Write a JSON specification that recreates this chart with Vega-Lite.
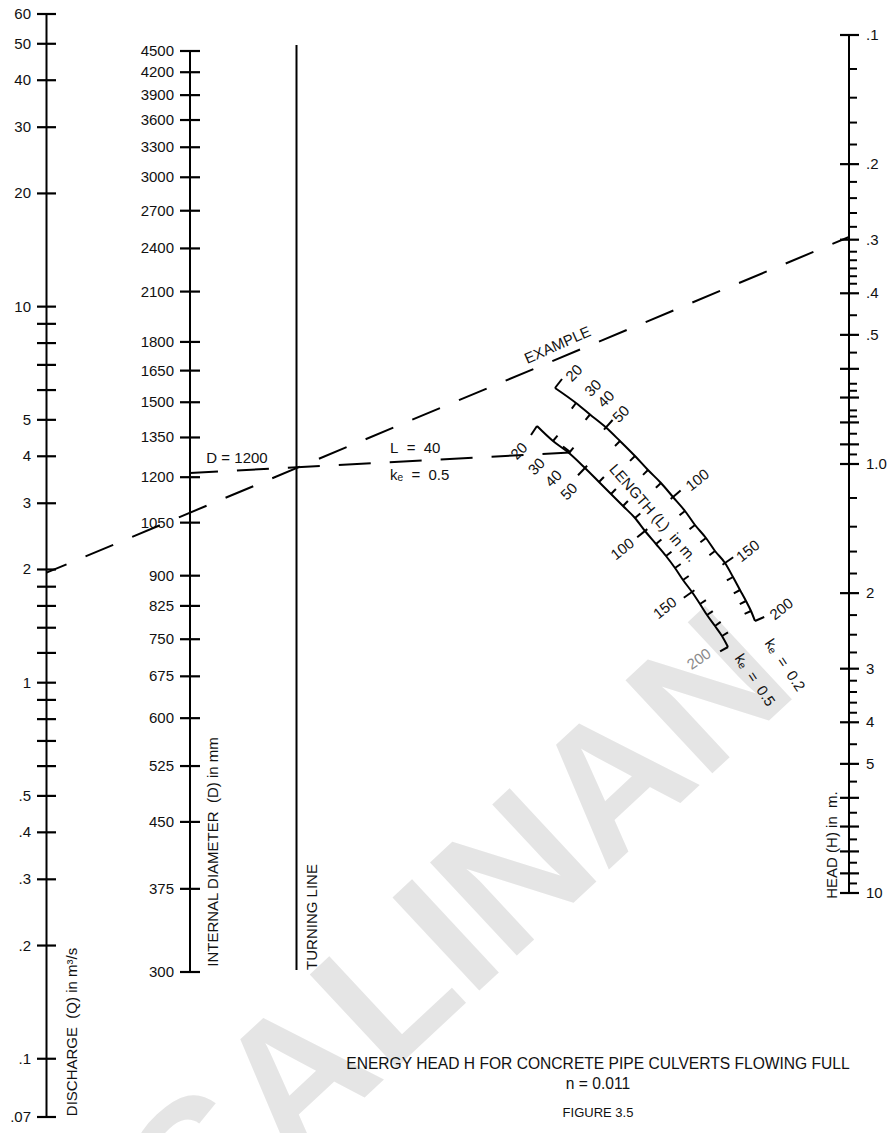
{
"$schema": "https://vega.github.io/schema/vega-lite/v6.json",
"width": 893, "height": 1133, "autosize": "none", "padding": 0, "background": "#ffffff",
"config": {"view": {"stroke": null}, "text": {"font": "Liberation Sans", "fontSize": 15, "color": "#111111"}},
"resolve": {"scale": {"y": "independent"}},
"datasets": {
"qticks": [{"v":60,"label":"60"},{"v":50,"label":"50"},{"v":40,"label":"40"},{"v":30,"label":"30"},{"v":20,"label":"20"},{"v":10,"label":"10"},{"v":9,"label":""},{"v":8,"label":""},{"v":7,"label":""},{"v":6,"label":""},{"v":5,"label":"5"},{"v":4,"label":"4"},{"v":3,"label":"3"},{"v":2,"label":"2"},{"v":1.8,"label":""},{"v":1.6,"label":""},{"v":1.4,"label":""},{"v":1.2,"label":""},{"v":1,"label":"1"},{"v":0.9,"label":""},{"v":0.8,"label":""},{"v":0.7,"label":""},{"v":0.6,"label":""},{"v":0.5,"label":".5"},{"v":0.4,"label":".4"},{"v":0.3,"label":".3"},{"v":0.2,"label":".2"},{"v":0.1,"label":".1"},{"v":0.07,"label":".07"}],
"dticks": [{"v":4500},{"v":4200},{"v":3900},{"v":3600},{"v":3300},{"v":3000},{"v":2700},{"v":2400},{"v":2100},{"v":1800},{"v":1650},{"v":1500},{"v":1350},{"v":1200},{"v":1050},{"v":900},{"v":825},{"v":750},{"v":675},{"v":600},{"v":525},{"v":450},{"v":375},{"v":300}],
"hticks": [{"v":0.1,"label":".1","kind":"major"},{"v":0.2,"label":".2","kind":"major"},{"v":0.3,"label":".3","kind":"major"},{"v":0.4,"label":".4","kind":"major"},{"v":0.5,"label":".5","kind":"major"},{"v":0.6,"label":"","kind":"major"},{"v":0.7,"label":"","kind":"major"},{"v":0.8,"label":"","kind":"major"},{"v":0.9,"label":"","kind":"major"},{"v":1,"label":"1.0","kind":"major"},{"v":2,"label":"2","kind":"major"},{"v":3,"label":"3","kind":"major"},{"v":4,"label":"4","kind":"major"},{"v":5,"label":"5","kind":"major"},{"v":6,"label":"","kind":"major"},{"v":7,"label":"","kind":"major"},{"v":8,"label":"","kind":"major"},{"v":9,"label":"","kind":"major"},{"v":10,"label":"10","kind":"major"},
{"v":0.12,"label":"","kind":"minor"},{"v":0.14,"label":"","kind":"minor"},{"v":0.16,"label":"","kind":"minor"},{"v":0.18,"label":"","kind":"minor"},{"v":0.22,"label":"","kind":"minor"},{"v":0.24,"label":"","kind":"minor"},{"v":0.26,"label":"","kind":"minor"},{"v":0.28,"label":"","kind":"minor"},{"v":0.32,"label":"","kind":"minor"},{"v":0.335,"label":"","kind":"minor"},{"v":0.35,"label":"","kind":"minor"},{"v":0.365,"label":"","kind":"minor"},{"v":0.38,"label":"","kind":"minor"},{"v":0.45,"label":"","kind":"minor"},{"v":0.55,"label":"","kind":"minor"},{"v":0.65,"label":"","kind":"minor"},{"v":0.675,"label":"","kind":"minor"},{"v":0.75,"label":"","kind":"minor"},{"v":0.775,"label":"","kind":"minor"},{"v":0.85,"label":"","kind":"minor"},{"v":0.95,"label":"","kind":"minor"},{"v":1.2,"label":"","kind":"minor"},{"v":1.4,"label":"","kind":"minor"},{"v":1.6,"label":"","kind":"minor"},{"v":1.8,"label":"","kind":"minor"},{"v":2.25,"label":"","kind":"minor"},{"v":2.5,"label":"","kind":"minor"},{"v":2.75,"label":"","kind":"minor"},{"v":3.2,"label":"","kind":"minor"},{"v":3.4,"label":"","kind":"minor"},{"v":3.6,"label":"","kind":"minor"},{"v":3.8,"label":"","kind":"minor"},{"v":4.5,"label":"","kind":"minor"},{"v":5.5,"label":"","kind":"minor"},{"v":6.5,"label":"","kind":"minor"},{"v":7.5,"label":"","kind":"minor"},{"v":8.5,"label":"","kind":"minor"},{"v":9.5,"label":"","kind":"minor"}],
"ucurve": [{"L":20,"gx":555,"gy":388,"t0x":555,"t0y":388,"tx":562,"ty":379},{"L":30,"gx":576,"gy":403,"t0x":576,"t0y":403,"tx":571.8,"ty":408.6},{"L":40,"gx":590,"gy":414.5,"t0x":590,"t0y":414.5,"tx":585.6,"ty":419.9},{"L":50,"gx":606,"gy":427.5,"t0x":604,"t0y":429.7,"tx":612.6,"ty":420},{"L":60,"gx":620,"gy":441,"t0x":620,"t0y":441,"tx":615,"ty":446},{"L":70,"gx":635,"gy":456,"t0x":635,"t0y":456,"tx":630,"ty":460.9},{"L":80,"gx":648,"gy":470,"t0x":648,"t0y":470,"tx":643,"ty":474.9},{"L":90,"gx":661,"gy":483,"t0x":661,"t0y":483,"tx":655.9,"ty":487.8},{"L":100,"gx":673,"gy":497,"t0x":670.7,"t0y":499,"tx":680.6,"ty":490.5},{"L":110,"gx":685,"gy":511,"t0x":685,"t0y":511,"tx":679.5,"ty":515.3},{"L":120,"gx":695,"gy":525,"t0x":695,"t0y":525,"tx":689.5,"ty":529.3},{"L":130,"gx":706,"gy":538,"t0x":706,"t0y":538,"tx":700.4,"ty":542.3},{"L":140,"gx":715,"gy":551,"t0x":715,"t0y":551,"tx":709.4,"ty":555.2},{"L":150,"gx":725,"gy":563,"t0x":722.5,"t0y":564.7,"tx":733.2,"ty":557.3},{"L":160,"gx":733,"gy":577,"t0x":733,"t0y":577,"tx":726.9,"ty":580.4},{"L":170,"gx":740,"gy":590,"t0x":740,"t0y":590,"tx":733.8,"ty":593.3},{"L":180,"gx":746,"gy":601,"t0x":746,"t0y":601,"tx":739.8,"ty":604.2},{"L":190,"gx":751,"gy":611,"t0x":751,"t0y":611,"tx":744.6,"ty":613.9},{"L":200,"gx":755,"gy":621,"t0x":755,"t0y":621,"tx":764.2,"ty":617}],
"lcurve": [{"L":20,"gx":537,"gy":426,"t0x":537,"t0y":426,"tx":531,"ty":435},{"L":30,"gx":553,"gy":441,"t0x":553,"t0y":441,"tx":557.5,"ty":435.6},{"L":40,"gx":569,"gy":453,"t0x":569,"t0y":453,"tx":573.5,"ty":447.7},{"L":50,"gx":585,"gy":468,"t0x":587.1,"t0y":465.8,"tx":578,"ty":475.2},{"L":60,"gx":599,"gy":482,"t0x":599,"t0y":482,"tx":603.9,"ty":477},{"L":70,"gx":611,"gy":494,"t0x":611,"t0y":494,"tx":615.9,"ty":489},{"L":80,"gx":623,"gy":506,"t0x":623,"t0y":506,"tx":627.9,"ty":501},{"L":90,"gx":635,"gy":518,"t0x":635,"t0y":518,"tx":640.3,"ty":513.4},{"L":100,"gx":645,"gy":531,"t0x":647.3,"t0y":529.1,"tx":637.2,"ty":537.3},{"L":110,"gx":656,"gy":544,"t0x":656,"t0y":544,"tx":661.4,"ty":539.5},{"L":120,"gx":666,"gy":556,"t0x":666,"t0y":556,"tx":671.5,"ty":551.7},{"L":130,"gx":675,"gy":568,"t0x":675,"t0y":568,"tx":680.7,"ty":564},{"L":140,"gx":683,"gy":580,"t0x":683,"t0y":580,"tx":688.7,"ty":576},{"L":150,"gx":692,"gy":592,"t0x":694.4,"t0y":590.3,"tx":683.8,"ty":597.8},{"L":160,"gx":700,"gy":604,"t0x":700,"t0y":604,"tx":705.9,"ty":600.2},{"L":170,"gx":707,"gy":615,"t0x":707,"t0y":615,"tx":712.8,"ty":611.1},{"L":180,"gx":715,"gy":626,"t0x":715,"t0y":626,"tx":720.7,"ty":621.9},{"L":190,"gx":722,"gy":636,"t0x":722,"t0y":636,"tx":728,"ty":632.3},{"L":200,"gx":728,"gy":647,"t0x":728,"t0y":647,"tx":720.1,"ty":651.3}],
"numlabels": [{"curve":"upper","text":"20","gx":574,"gy":373},{"curve":"upper","text":"30","gx":593,"gy":388},{"curve":"upper","text":"40","gx":606,"gy":399},{"curve":"upper","text":"50","gx":621,"gy":414},{"curve":"upper","text":"100","gx":697.5,"gy":480},{"curve":"upper","text":"150","gx":748,"gy":551},{"curve":"upper","text":"200","gx":781.5,"gy":609},{"curve":"lower","text":"20","gx":519,"gy":451},{"curve":"lower","text":"30","gx":536.5,"gy":466.5},{"curve":"lower","text":"40","gx":553.5,"gy":478.5},{"curve":"lower","text":"50","gx":569,"gy":491.5},{"curve":"lower","text":"100","gx":622.5,"gy":549},{"curve":"lower","text":"150","gx":665,"gy":608},{"curve":"lower","text":"200","gx":699,"gy":659}]
},
"layer": [
{"data":{"values":[{"text":"SALINAN","gx":462,"gy":930}]},"mark":{"type":"text","angle":-43,"fontSize":185,"fontWeight":"bold","color":"#e5e5e5","align":"center","baseline":"middle"},"encoding":{"x":{"field":"gx","type":"quantitative","scale":{"type":"linear","domain":[0,893],"range":[0,893],"nice":false,"zero":false},"axis":null},"y":{"field":"gy","type":"quantitative","scale":{"type":"linear","domain":[0,1133],"range":[0,1133],"nice":false,"zero":false},"axis":null},"text":{"field":"text"}}},

{"data":{"values":[{}]},"mark":{"type":"rule","strokeWidth":2,"color":"#000000"},"encoding":{"x":{"datum":46.5,"type":"quantitative","scale":{"type":"linear","domain":[0,893],"range":[0,893],"nice":false,"zero":false},"axis":null},"y":{"datum":0.07,"type":"quantitative","scale":{"type":"log","domain":[0.07,60],"range":[1117,14],"nice":false},"axis":null},"y2":{"datum":60}}},
{"data":{"name":"qticks"},"mark":{"type":"rule","strokeWidth":2.2,"color":"#000000"},"encoding":{"x":{"datum":37,"type":"quantitative","scale":{"type":"linear","domain":[0,893],"range":[0,893],"nice":false,"zero":false},"axis":null},"x2":{"datum":56},"y":{"field":"v","type":"quantitative","scale":{"type":"log","domain":[0.07,60],"range":[1117,14],"nice":false},"axis":null}}},
{"data":{"name":"qticks"},"mark":{"type":"text","align":"right","baseline":"middle"},"encoding":{"x":{"datum":31,"type":"quantitative","scale":{"type":"linear","domain":[0,893],"range":[0,893],"nice":false,"zero":false},"axis":null},"y":{"field":"v","type":"quantitative","scale":{"type":"log","domain":[0.07,60],"range":[1117,14],"nice":false},"axis":null},"text":{"field":"label"}}},

{"data":{"values":[{}]},"mark":{"type":"rule","strokeWidth":2,"color":"#000000"},"encoding":{"x":{"datum":190,"type":"quantitative","scale":{"type":"linear","domain":[0,893],"range":[0,893],"nice":false,"zero":false},"axis":null},"y":{"datum":300,"type":"quantitative","scale":{"type":"pow","exponent":-0.075,"domain":[300,4500],"range":[972,51],"nice":false,"zero":false},"axis":null},"y2":{"datum":4500}}},
{"data":{"name":"dticks"},"mark":{"type":"rule","strokeWidth":2.2,"color":"#000000"},"encoding":{"x":{"datum":180,"type":"quantitative","scale":{"type":"linear","domain":[0,893],"range":[0,893],"nice":false,"zero":false},"axis":null},"x2":{"datum":200},"y":{"field":"v","type":"quantitative","scale":{"type":"pow","exponent":-0.075,"domain":[300,4500],"range":[972,51],"nice":false,"zero":false},"axis":null}}},
{"data":{"name":"dticks"},"mark":{"type":"text","align":"right","baseline":"middle"},"encoding":{"x":{"datum":174,"type":"quantitative","scale":{"type":"linear","domain":[0,893],"range":[0,893],"nice":false,"zero":false},"axis":null},"y":{"field":"v","type":"quantitative","scale":{"type":"pow","exponent":-0.075,"domain":[300,4500],"range":[972,51],"nice":false,"zero":false},"axis":null},"text":{"field":"v","type":"quantitative","format":"d"}}},

{"data":{"values":[{}]},"mark":{"type":"rule","strokeWidth":2,"color":"#000000"},"encoding":{"x":{"datum":849,"type":"quantitative","scale":{"type":"linear","domain":[0,893],"range":[0,893],"nice":false,"zero":false},"axis":null},"y":{"datum":0.1,"type":"quantitative","scale":{"type":"log","domain":[0.1,10],"range":[35,893],"nice":false},"axis":null},"y2":{"datum":10}}},
{"data":{"name":"hticks"},"transform":[{"filter":"datum.kind == 'major'"}],"mark":{"type":"rule","strokeWidth":2.2,"color":"#000000"},"encoding":{"x":{"datum":840,"type":"quantitative","scale":{"type":"linear","domain":[0,893],"range":[0,893],"nice":false,"zero":false},"axis":null},"x2":{"datum":859},"y":{"field":"v","type":"quantitative","scale":{"type":"log","domain":[0.1,10],"range":[35,893],"nice":false},"axis":null}}},
{"data":{"name":"hticks"},"transform":[{"filter":"datum.kind == 'minor'"}],"mark":{"type":"rule","strokeWidth":2,"color":"#000000"},"encoding":{"x":{"datum":849,"type":"quantitative","scale":{"type":"linear","domain":[0,893],"range":[0,893],"nice":false,"zero":false},"axis":null},"x2":{"datum":857},"y":{"field":"v","type":"quantitative","scale":{"type":"log","domain":[0.1,10],"range":[35,893],"nice":false},"axis":null}}},
{"data":{"name":"hticks"},"transform":[{"filter":"datum.label != ''"}],"mark":{"type":"text","align":"left","baseline":"middle"},"encoding":{"x":{"datum":866,"type":"quantitative","scale":{"type":"linear","domain":[0,893],"range":[0,893],"nice":false,"zero":false},"axis":null},"y":{"field":"v","type":"quantitative","scale":{"type":"log","domain":[0.1,10],"range":[35,893],"nice":false},"axis":null},"text":{"field":"label"}}},

{"data":{"values":[{}]},"mark":{"type":"rule","strokeWidth":2,"color":"#000000"},"encoding":{"x":{"datum":296.5,"type":"quantitative","scale":{"type":"linear","domain":[0,893],"range":[0,893],"nice":false,"zero":false},"axis":null},"y":{"datum":45,"type":"quantitative","scale":{"type":"linear","domain":[0,1133],"range":[0,1133],"nice":false,"zero":false},"axis":null},"y2":{"datum":970}}},

{"data":{"values":[{"gx":46.5,"gy":572.7},{"gx":849,"gy":237}]},"mark":{"type":"line","strokeWidth":2,"color":"#000000","strokeDash":[30,20.6],"strokeDashOffset":8.3},"encoding":{"x":{"field":"gx","type":"quantitative","scale":{"type":"linear","domain":[0,893],"range":[0,893],"nice":false,"zero":false},"axis":null},"y":{"field":"gy","type":"quantitative","scale":{"type":"linear","domain":[0,1133],"range":[0,1133],"nice":false,"zero":false},"axis":null}}},
{"data":{"values":[{"gx":190,"gy":473},{"gx":570,"gy":452.5}]},"mark":{"type":"line","strokeWidth":2,"color":"#000000","strokeDash":[32,19],"strokeDashOffset":4},"encoding":{"x":{"field":"gx","type":"quantitative","scale":{"type":"linear","domain":[0,893],"range":[0,893],"nice":false,"zero":false},"axis":null},"y":{"field":"gy","type":"quantitative","scale":{"type":"linear","domain":[0,1133],"range":[0,1133],"nice":false,"zero":false},"axis":null}}},
{"data":{"values":[{"gx":563,"gy":446.5,"gx2":570.5,"gy2":452.3}]},"mark":{"type":"rule","strokeWidth":2,"color":"#000000"},"encoding":{"x":{"field":"gx","type":"quantitative","scale":{"type":"linear","domain":[0,893],"range":[0,893],"nice":false,"zero":false},"axis":null},"y":{"field":"gy","type":"quantitative","scale":{"type":"linear","domain":[0,1133],"range":[0,1133],"nice":false,"zero":false},"axis":null},"x2":{"field":"gx2"},"y2":{"field":"gy2"}}},

{"data":{"name":"ucurve"},"mark":{"type":"line","strokeWidth":2,"color":"#000000","interpolate":"monotone"},"encoding":{"x":{"field":"gx","type":"quantitative","scale":{"type":"linear","domain":[0,893],"range":[0,893],"nice":false,"zero":false},"axis":null},"y":{"field":"gy","type":"quantitative","scale":{"type":"linear","domain":[0,1133],"range":[0,1133],"nice":false,"zero":false},"axis":null},"order":{"field":"L","type":"quantitative"}}},
{"data":{"name":"ucurve"},"mark":{"type":"rule","strokeWidth":2,"color":"#000000"},"encoding":{"x":{"field":"t0x","type":"quantitative","scale":{"type":"linear","domain":[0,893],"range":[0,893],"nice":false,"zero":false},"axis":null},"y":{"field":"t0y","type":"quantitative","scale":{"type":"linear","domain":[0,1133],"range":[0,1133],"nice":false,"zero":false},"axis":null},"x2":{"field":"tx"},"y2":{"field":"ty"}}},
{"data":{"name":"lcurve"},"mark":{"type":"line","strokeWidth":2,"color":"#000000","interpolate":"monotone"},"encoding":{"x":{"field":"gx","type":"quantitative","scale":{"type":"linear","domain":[0,893],"range":[0,893],"nice":false,"zero":false},"axis":null},"y":{"field":"gy","type":"quantitative","scale":{"type":"linear","domain":[0,1133],"range":[0,1133],"nice":false,"zero":false},"axis":null},"order":{"field":"L","type":"quantitative"}}},
{"data":{"name":"lcurve"},"mark":{"type":"rule","strokeWidth":2,"color":"#000000"},"encoding":{"x":{"field":"t0x","type":"quantitative","scale":{"type":"linear","domain":[0,893],"range":[0,893],"nice":false,"zero":false},"axis":null},"y":{"field":"t0y","type":"quantitative","scale":{"type":"linear","domain":[0,1133],"range":[0,1133],"nice":false,"zero":false},"axis":null},"x2":{"field":"tx"},"y2":{"field":"ty"}}},

{"data":{"name":"numlabels"},"transform":[{"filter":"length(datum.text) == 2"}],"mark":{"type":"text","angle":-45,"align":"center","baseline":"middle"},"encoding":{"x":{"field":"gx","type":"quantitative","scale":{"type":"linear","domain":[0,893],"range":[0,893],"nice":false,"zero":false},"axis":null},"y":{"field":"gy","type":"quantitative","scale":{"type":"linear","domain":[0,1133],"range":[0,1133],"nice":false,"zero":false},"axis":null},"text":{"field":"text"}}},
{"data":{"name":"numlabels"},"transform":[{"filter":"length(datum.text) == 3 && !(datum.curve == 'lower' && datum.text == '200')"}],"mark":{"type":"text","angle":-38,"align":"center","baseline":"middle"},"encoding":{"x":{"field":"gx","type":"quantitative","scale":{"type":"linear","domain":[0,893],"range":[0,893],"nice":false,"zero":false},"axis":null},"y":{"field":"gy","type":"quantitative","scale":{"type":"linear","domain":[0,1133],"range":[0,1133],"nice":false,"zero":false},"axis":null},"text":{"field":"text"}}},
{"data":{"name":"numlabels"},"transform":[{"filter":"datum.curve == 'lower' && datum.text == '200'"}],"mark":{"type":"text","angle":-35,"align":"center","baseline":"middle","color":"#8a8a8a"},"encoding":{"x":{"field":"gx","type":"quantitative","scale":{"type":"linear","domain":[0,893],"range":[0,893],"nice":false,"zero":false},"axis":null},"y":{"field":"gy","type":"quantitative","scale":{"type":"linear","domain":[0,1133],"range":[0,1133],"nice":false,"zero":false},"axis":null},"text":{"field":"text"}}},

{"data":{"values":[{"text":"LENGTH (L)\u00a0 in m.","gx":653,"gy":513}]},"mark":{"type":"text","angle":49,"align":"center","baseline":"middle"},"encoding":{"x":{"field":"gx","type":"quantitative","scale":{"type":"linear","domain":[0,893],"range":[0,893],"nice":false,"zero":false},"axis":null},"y":{"field":"gy","type":"quantitative","scale":{"type":"linear","domain":[0,1133],"range":[0,1133],"nice":false,"zero":false},"axis":null},"text":{"field":"text"}}},
{"data":{"values":[{"text":"EXAMPLE","gx":557.5,"gy":345}]},"mark":{"type":"text","angle":-24,"align":"center","baseline":"middle"},"encoding":{"x":{"field":"gx","type":"quantitative","scale":{"type":"linear","domain":[0,893],"range":[0,893],"nice":false,"zero":false},"axis":null},"y":{"field":"gy","type":"quantitative","scale":{"type":"linear","domain":[0,1133],"range":[0,1133],"nice":false,"zero":false},"axis":null},"text":{"field":"text"}}},
{"data":{"values":[{"text":"kₑ\u00a0 =\u00a0 0.2","gx":785,"gy":665},{"text":"kₑ\u00a0 =\u00a0 0.5","gx":755,"gy":680}]},"mark":{"type":"text","angle":56,"align":"center","baseline":"middle"},"encoding":{"x":{"field":"gx","type":"quantitative","scale":{"type":"linear","domain":[0,893],"range":[0,893],"nice":false,"zero":false},"axis":null},"y":{"field":"gy","type":"quantitative","scale":{"type":"linear","domain":[0,1133],"range":[0,1133],"nice":false,"zero":false},"axis":null},"text":{"field":"text"}}},
{"data":{"values":[{"text":"D = 1200","gx":237,"gy":458}]},"mark":{"type":"text","align":"center","baseline":"middle"},"encoding":{"x":{"field":"gx","type":"quantitative","scale":{"type":"linear","domain":[0,893],"range":[0,893],"nice":false,"zero":false},"axis":null},"y":{"field":"gy","type":"quantitative","scale":{"type":"linear","domain":[0,1133],"range":[0,1133],"nice":false,"zero":false},"axis":null},"text":{"field":"text"}}},
{"data":{"values":[{"text":"ENERGY HEAD H FOR CONCRETE PIPE CULVERTS FLOWING FULL","gx":598,"gy":1064},{"text":"n = 0.011","gx":598,"gy":1084}]},"mark":{"type":"text","align":"center","baseline":"middle","fontSize":15.6},"encoding":{"x":{"field":"gx","type":"quantitative","scale":{"type":"linear","domain":[0,893],"range":[0,893],"nice":false,"zero":false},"axis":null},"y":{"field":"gy","type":"quantitative","scale":{"type":"linear","domain":[0,1133],"range":[0,1133],"nice":false,"zero":false},"axis":null},"text":{"field":"text"}}},
{"data":{"values":[{"text":"FIGURE 3.5","gx":598,"gy":1113}]},"mark":{"type":"text","align":"center","baseline":"middle","fontSize":13},"encoding":{"x":{"field":"gx","type":"quantitative","scale":{"type":"linear","domain":[0,893],"range":[0,893],"nice":false,"zero":false},"axis":null},"y":{"field":"gy","type":"quantitative","scale":{"type":"linear","domain":[0,1133],"range":[0,1133],"nice":false,"zero":false},"axis":null},"text":{"field":"text"}}},
{"data":{"values":[{"text":"L\u00a0 =\u00a0 40","gx":390,"gy":447.5},{"text":"kₑ\u00a0 =\u00a0 0.5","gx":390,"gy":475}]},"mark":{"type":"text","align":"left","baseline":"middle"},"encoding":{"x":{"field":"gx","type":"quantitative","scale":{"type":"linear","domain":[0,893],"range":[0,893],"nice":false,"zero":false},"axis":null},"y":{"field":"gy","type":"quantitative","scale":{"type":"linear","domain":[0,1133],"range":[0,1133],"nice":false,"zero":false},"axis":null},"text":{"field":"text"}}},
{"data":{"values":[{"text":"DISCHARGE\u00a0 (Q) in m³/s","gx":71.5,"gy":1032},{"text":"INTERNAL DIAMETER\u00a0 (D) in mm","gx":212.5,"gy":852},{"text":"TURNING LINE","gx":312,"gy":917},{"text":"HEAD (H) in\u00a0 m.","gx":832,"gy":845}]},"mark":{"type":"text","angle":-90,"align":"center","baseline":"middle"},"encoding":{"x":{"field":"gx","type":"quantitative","scale":{"type":"linear","domain":[0,893],"range":[0,893],"nice":false,"zero":false},"axis":null},"y":{"field":"gy","type":"quantitative","scale":{"type":"linear","domain":[0,1133],"range":[0,1133],"nice":false,"zero":false},"axis":null},"text":{"field":"text"}}}
]
}
